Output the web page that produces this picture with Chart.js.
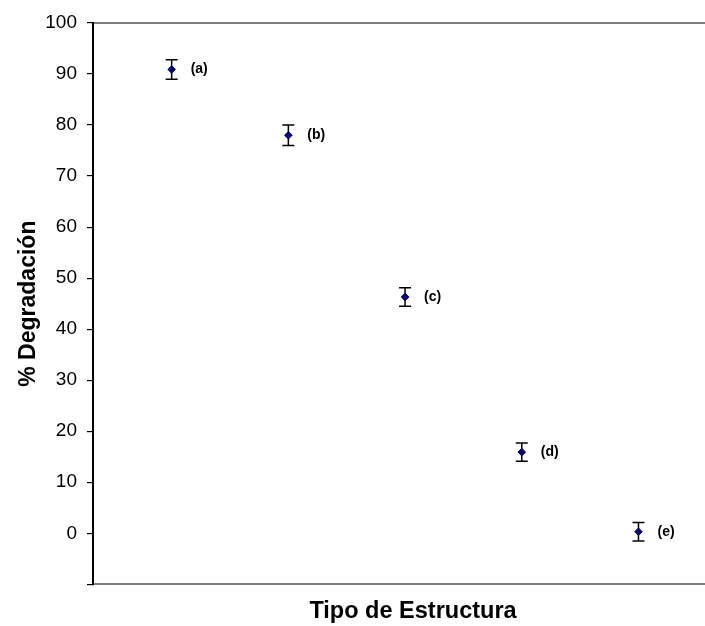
<!DOCTYPE html>
<html>
<head>
<meta charset="utf-8">
<script src="https://cdn.jsdelivr.net/npm/chart.js@4"></script>
<style>
  html, body { margin: 0; padding: 0; background: #ffffff; }
  #wrap { width: 705px; height: 626px; overflow: hidden; position: relative; }
  canvas { display: block; }
</style>
</head>
<body>
<div id="wrap"><canvas id="chart" width="738" height="626"></canvas></div>
<script>
// Structure types (positions along the x axis) and their degradation results
const positions = [1, 2, 3, 4, 5];
const labels = ['(a)', '(b)', '(c)', '(d)', '(e)'];
const degradation = [90.9, 78.0, 46.3, 15.9, 0.3];
const errors = [1.9, 2.0, 1.8, 1.8, 1.8];

const FONT = '"Liberation Sans", Arial, sans-serif';

// Vertical error bars with caps, drawn under the markers
const errorBars = {
  id: 'errorBars',
  beforeDatasetsDraw(chart) {
    const { ctx, scales: { x, y } } = chart;
    ctx.save();
    ctx.strokeStyle = '#000000';
    ctx.lineWidth = 1.5;
    positions.forEach((p, i) => {
      const px = x.getPixelForValue(p);
      const top = y.getPixelForValue(degradation[i] + errors[i]);
      const bot = y.getPixelForValue(degradation[i] - errors[i]);
      const cap = 6;
      ctx.beginPath();
      ctx.moveTo(px, top); ctx.lineTo(px, bot);
      ctx.moveTo(px - cap, top); ctx.lineTo(px + cap, top);
      ctx.moveTo(px - cap, bot); ctx.lineTo(px + cap, bot);
      ctx.stroke();
    });
    ctx.restore();
  }
};

// Letter tags next to each point
const pointTags = {
  id: 'pointTags',
  afterDatasetsDraw(chart) {
    const { ctx, scales: { x, y } } = chart;
    ctx.save();
    ctx.fillStyle = '#000000';
    ctx.font = 'bold 14px ' + FONT;
    ctx.textAlign = 'left';
    ctx.textBaseline = 'middle';
    positions.forEach((p, i) => {
      ctx.fillText(labels[i], x.getPixelForValue(p) + 19, y.getPixelForValue(degradation[i]));
    });
    ctx.restore();
  }
};

new Chart(document.getElementById('chart'), {
  type: 'scatter',
  data: {
    datasets: [{
      data: positions.map((p, i) => ({ x: p, y: degradation[i] })),
      pointStyle: 'rectRot',
      pointRadius: 3.8,
      pointBorderWidth: 1,
      backgroundColor: '#000080',
      borderColor: '#000080'
    }]
  },
  options: {
    responsive: false,
    animation: false,
    events: [],
    layout: { padding: { top: 23, left: 0, right: 0, bottom: 0 } },
    plugins: { legend: { display: false }, tooltip: { enabled: false } },
    scales: {
      x: {
        type: 'linear',
        position: 'bottom',
        min: 0.326,
        max: 5.81,
        ticks: { display: false },
        grid: { display: false },
        border: { display: true, color: '#7f7f7f', width: 2 },
        title: {
          display: true,
          text: 'Tipo de Estructura',
          color: '#000000',
          font: { family: FONT, size: 23.5, weight: 'bold' },
          padding: { top: 0, bottom: 0 }
        },
        afterFit(scale) { scale.height = 41.7; }
      },
      x2: {
        type: 'linear',
        position: 'top',
        min: 0,
        max: 1,
        ticks: { display: false },
        grid: { display: false },
        border: { display: true, color: '#7f7f7f', width: 2 },
        afterFit(scale) { scale.height = 0; }
      },
      y: {
        min: -10,
        max: 100,
        ticks: {
          stepSize: 10,
          color: '#000000',
          padding: 10,
          font: { family: FONT, size: 19 },
          callback: (v) => (v < 0 ? '' : v)
        },
        grid: {
          drawOnChartArea: false,
          drawTicks: true,
          tickLength: 6,
          color: '#000000',
          lineWidth: 1.2
        },
        border: { display: true, color: '#000000', width: 2 },
        title: {
          display: true,
          text: '% Degradación',
          color: '#000000',
          font: { family: FONT, size: 23, weight: 'bold' },
          padding: { top: 15, bottom: 0 }
        },
        afterFit(scale) { scale.width = 93; }
      }
    }
  },
  plugins: [errorBars, pointTags]
});
</script>
</body>
</html>
